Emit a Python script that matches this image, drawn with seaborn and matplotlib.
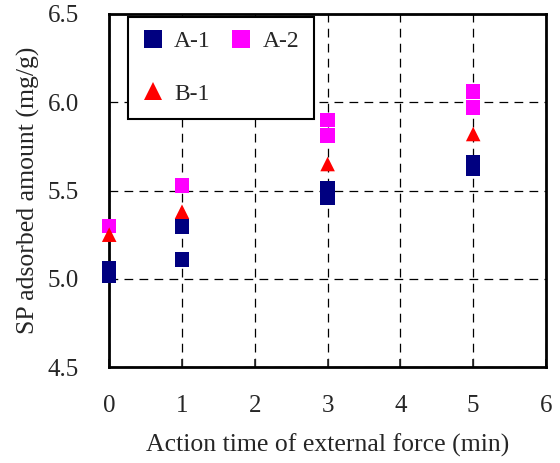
import matplotlib
matplotlib.use("Agg")
from matplotlib import pyplot as plt
import pandas as pd
import seaborn as sns

# action time (min) and adsorbed amount (mg/g) per sample
a1_time = [0, 0, 1, 1, 3, 3, 5, 5]
a1_amount = [5.06, 5.02, 5.295, 5.11, 5.51, 5.46, 5.66, 5.625]
a2_time = [0, 1, 3, 3, 5, 5]
a2_amount = [5.30, 5.53, 5.90, 5.81, 6.06, 5.97]
b1_time = [0, 1, 3, 5]
b1_amount = [5.25, 5.38, 5.65, 5.82]

df = pd.DataFrame({
    "time": a1_time + a2_time + b1_time,
    "amount": a1_amount + a2_amount + b1_amount,
    "sample": ["A-1"] * len(a1_time) + ["A-2"] * len(a2_time) + ["B-1"] * len(b1_time),
})

sns.set_style("white")
plt.rcParams["font.family"] = ["Liberation Serif", "DejaVu Serif"]

f, ax = plt.subplots(figsize=(5.6, 4.63), dpi=100)
f.subplots_adjust(left=0.195, right=0.975, top=0.97, bottom=0.207)

colors = {"A-1": "#000080", "A-2": "#ff00ff", "B-1": "#ff0000"}
markers = {"A-1": "s", "A-2": "s", "B-1": "^"}

ax = sns.scatterplot(
    data=df, x="time", y="amount", hue="sample", style="sample",
    palette=colors, markers=markers, s=110, linewidth=0, ax=ax,
    clip_on=False, zorder=3,
)

ax.set_xlim(0, 6)
ax.set_ylim(4.5, 6.5)
ax.set_xticks(range(0, 7))
ax.set_yticks([4.5, 5.0, 5.5, 6.0, 6.5])
ax.set_yticklabels(["4.5", "5.0", "5.5", "6.0", "6.5"])
ax.grid(True, color="black", linestyle=(0, (7, 5)), linewidth=0.9)
for s in ax.spines.values():
    s.set_color("black")
    s.set_linewidth(2)
ax.tick_params(axis="x", direction="in", length=6, width=1.2, pad=20, labelsize=18, bottom=True)
ax.tick_params(axis="y", direction="in", length=0, pad=22, labelsize=18, left=True)

ax.set_xlabel("Action time of external force (min)", fontsize=18.5, labelpad=12)
ax.set_ylabel("SP adsorbed amount (mg/g)", fontsize=18.5, labelpad=5)

h, l = ax.get_legend_handles_labels()
order = [l.index("A-1"), l.index("B-1"), l.index("A-2")]
leg = ax.legend(
    [h[i] for i in order], [l[i] for i in order], ncol=2, loc="upper left",
    bbox_to_anchor=(0.043, 0.992), borderaxespad=0, fontsize=17, frameon=True,
    fancybox=False, edgecolor="black", labelspacing=1.3, handletextpad=0.45,
    columnspacing=0.85, borderpad=0.6, markerscale=1.3, handlelength=0.9,
)
leg.get_frame().set_linewidth(1.5)
leg.get_frame().set_alpha(1)

plt.savefig("out.png", dpi=100)
